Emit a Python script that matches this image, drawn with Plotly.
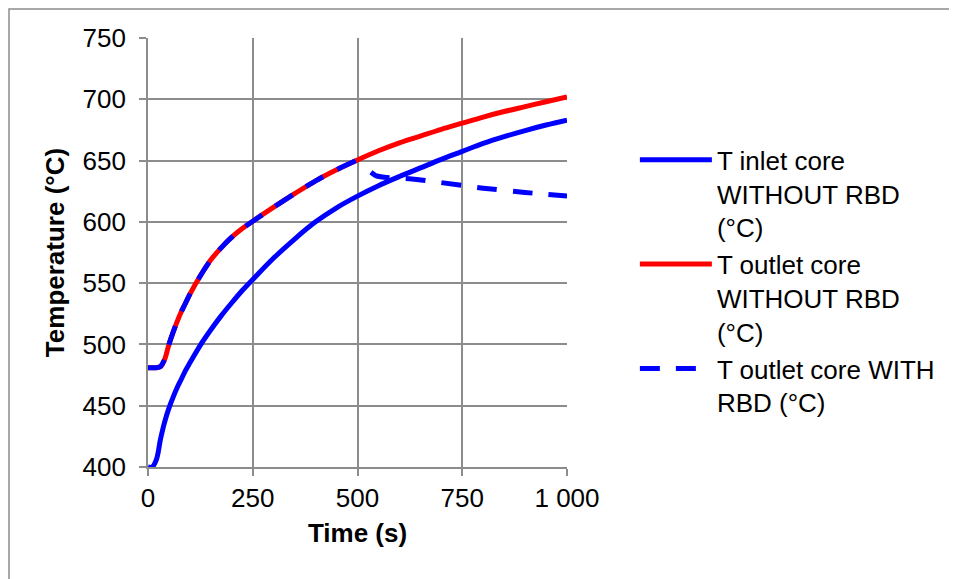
import plotly.graph_objects as go

# ---- data ----
time_s = [0, 10, 20, 30, 40, 50, 60, 70, 80, 90, 100, 125, 150, 175, 200, 225, 250, 300, 350,
          400, 450, 500, 550, 600, 650, 700, 750, 800, 850, 900, 950, 1000]
t_inlet_without = [400, 400, 406, 423, 437, 448, 457, 465, 472, 479, 485, 499.5, 512, 523.5, 534,
                   544, 553, 570.5, 586, 600, 611.5, 621, 629.5, 637, 644, 651, 657.5, 664, 669.5,
                   674.5, 679, 683]
t_outlet_without = [481, 481, 481, 482, 488, 500, 510, 519, 527, 534, 541, 556, 569, 579, 587.5,
                    594.5, 600.5, 612, 623, 633.5, 642.5, 650.5, 658, 664.5, 670, 675.5, 680.5,
                    685.5, 690, 694, 698, 702]
# the WITH-RBD curve follows the outlet curve, then drops (drop falls in a dash gap)
time_rbd = [0, 10, 20, 30, 40, 50, 60, 70, 80, 90, 100, 125, 150, 175, 200, 225, 250, 300, 350,
            400, 450, 500, 516, 523, 532, 545, 575, 630, 700, 800, 900, 1000]
t_outlet_with = [481, 481, 481, 482, 488, 500, 510, 519, 527, 534, 541, 556, 569, 579, 587.5,
                 594.5, 600.5, 612, 623, 633.5, 642.5, 650.5, 653, None, 640.5, 637.5, 636, 635,
                 632, 627.5, 624, 621]

x_tickvals = [0, 250, 500, 750, 1000]
x_ticktext = ["0", "250", "500", "750", "1 000"]
y_tickvals = [400, 450, 500, 550, 600, 650, 700, 750]

names = ["T inlet core<br>WITHOUT RBD<br>(°C)",
         "T outlet core<br>WITHOUT RBD<br>(°C)",
         "T outlet core WITH<br>RBD (°C)"]

FONT = "Liberation Sans, Arial, sans-serif"
GRID = "#8c8c8c"
FS = 26
LW = 5

fig = go.Figure()
fig.add_trace(go.Scatter(x=time_s, y=t_inlet_without, mode="lines", name=names[0],
                         line=dict(color="#0000ff", width=LW, shape="spline", smoothing=1.0)))
fig.add_trace(go.Scatter(x=time_s, y=t_outlet_without, mode="lines", name=names[1],
                         line=dict(color="#ff0000", width=LW, shape="spline", smoothing=1.0)))
fig.add_trace(go.Scatter(x=time_rbd, y=t_outlet_with, mode="lines", name=names[2],
                         connectgaps=False,
                         line=dict(color="#0000ff", width=LW, dash="20px,16px",
                                   shape="spline", smoothing=0.6)))

fig.update_layout(
    width=949, height=571,
    margin=dict(l=140, r=390, t=30, b=112),
    paper_bgcolor="white", plot_bgcolor="white",
    font=dict(family=FONT, size=FS, color="black"),
    showlegend=True,
    legend=dict(x=1.162, y=0.771, xanchor="left", yanchor="top",
                font=dict(size=FS), itemwidth=72, valign="top",
                bgcolor="rgba(0,0,0,0)"),
    xaxis=dict(range=[0, 1000], tickvals=x_tickvals, ticktext=x_ticktext,
               showgrid=True, gridcolor=GRID, gridwidth=1.8,
               showline=True, linecolor=GRID, linewidth=1.8,
               ticks="outside", ticklen=7, tickcolor=GRID, tickwidth=1.8,
               zeroline=False, tickfont=dict(size=FS),
               title=dict(text="<b>Time (s)</b>", font=dict(size=FS), standoff=12)),
    yaxis=dict(range=[400, 750], tickvals=y_tickvals,
               showgrid=True, gridcolor=GRID, gridwidth=1.8,
               showline=True, linecolor=GRID, linewidth=1.8,
               ticks="outside", ticklen=7, tickcolor=GRID, tickwidth=1.8,
               ticklabelstandoff=8,
               zeroline=False, tickfont=dict(size=FS),
               title=dict(text="<b>Temperature (°C)</b>", font=dict(size=FS), standoff=10)),
)
# outer chart frame
fig.add_shape(type="rect", xref="paper", yref="paper",
              x0=(1 - 140) / 419, x1=(980 - 140) / 419,
              y0=(459 - 620) / 429, y1=(459 - 1) / 429,
              line=dict(color="#8c8c8c", width=1.5), fillcolor="rgba(0,0,0,0)", layer="below")

fig.write_html("out.html")
